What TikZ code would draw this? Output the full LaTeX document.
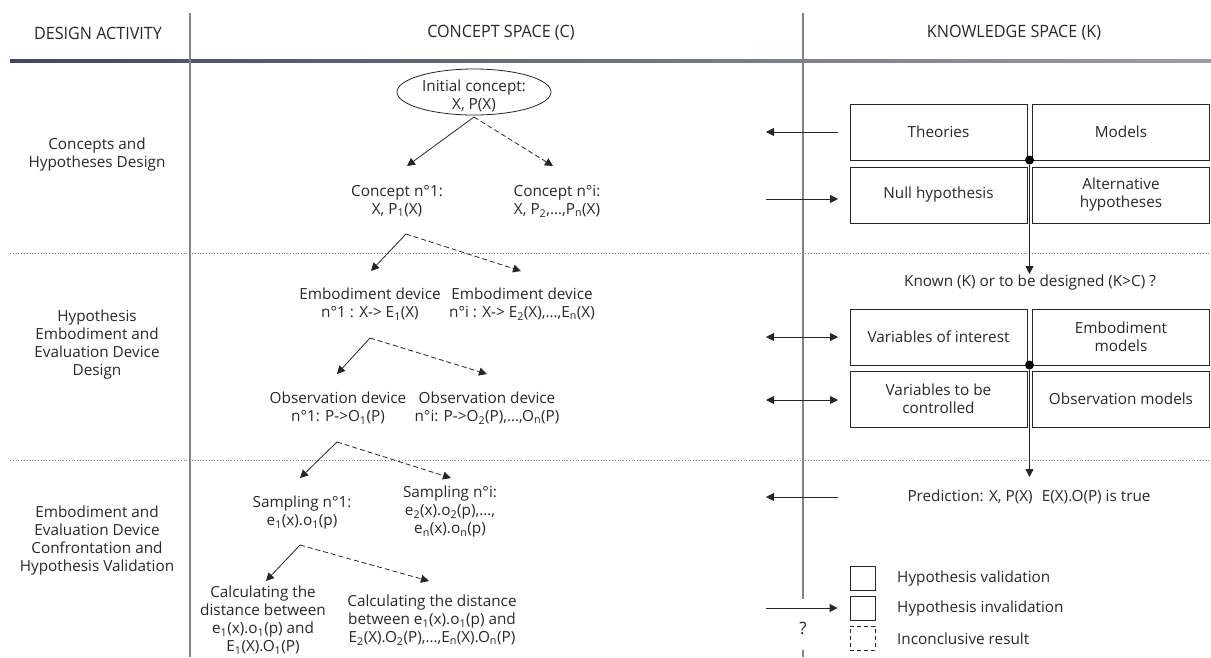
\documentclass[tikz,border=0pt]{standalone}
\usepackage{fontspec}
\setmainfont{Open Sans}
\usetikzlibrary{arrows.meta,shapes.geometric}
\newcommand\lo[1]{\textsubscript{#1}}
\definecolor{txtc}{RGB}{40,40,40}
\definecolor{gridc}{RGB}{130,130,130}
\begin{document}
\begin{tikzpicture}[x=1pt,y=-1pt,
  txt/.style={align=center, text=txtc, font=\fontsize{15.3}{18}\selectfont, inner sep=0pt},
  head/.style={text=txtc, font=\fontsize{17}{18}\selectfont, inner sep=0pt},
  kbox/.style={txt, draw=black!85, line width=0.8pt, minimum width=177pt, minimum height=56pt},
  lbox/.style={draw=black!85, line width=0.8pt, minimum width=25pt, minimum height=24pt, inner sep=0pt},
  arr/.style={-{Triangle[length=8pt,width=8pt]}, line width=0.8pt, black!85},
  darr/.style={{Triangle[length=8pt,width=8pt]}-{Triangle[length=8pt,width=8pt]}, line width=0.8pt, black!85},
  dash arr/.style={arr, dash pattern=on 5pt off 3pt},
  grid/.style={gridc, line width=1.4pt},
  sep/.style={gridc, line width=0.8pt, dotted},
  dot/.style={circle, fill=black, inner sep=0pt, minimum size=9pt}
]
\useasboundingbox[fill=white] (0,0) rectangle (1211,657);

% ---------- grid ----------
\shade[left color={rgb,255:red,65;green,72;blue,95}, right color={rgb,255:red,155;green,158;blue,168}] (10,59.8) rectangle (1211,62);
\draw[grid] (190,13) -- (190,657);
\draw[grid] (803,13) -- (803,599);
\draw[grid] (803,650) -- (803,657);
\draw[sep] (10,253) -- (1211,253);
\draw[sep] (10,460) -- (1211,460);

% ---------- headers ----------
\node[head] (hD) at (98,33) {\scalebox{0.95}[1]{DESIGN ACTIVITY}};
\node[head] (hC) at (501,33) {\scalebox{0.95}[1]{CONCEPT SPACE (C)}};
\node[head] (hK) at (1014,33) {\scalebox{0.95}[1]{KNOWLEDGE SPACE (K)}};

% ---------- design activities ----------
\node[txt] (a1) at (97,155) {Concepts and\\Hypotheses Design};
\node[txt] (a2) at (97,345) {Hypothesis\\Embodiment and\\Evaluation Device\\Design};
\node[txt] (a3) at (97,541) {Embodiment and\\Evaluation Device\\Confrontation and\\Hypothesis Validation};

% ---------- concept space ----------
\node[ellipse, draw=black!85, line width=0.8pt, minimum width=154pt, minimum height=46pt, inner sep=0pt] (init) at (474,92) {};
\node[txt] (initT) at (474,96) {Initial concept:\\X, P(X)};
\node[txt] (c1) at (397,201) {Concept n°1:\\X, P\lo{1}(X)};
\node[txt] (ci) at (557,201) {Concept n°i:\\X, P\lo{2},…,P\lo{n}(X)};
\node[txt] (e1) at (370,304) {Embodiment device\\n°1 : X-> E\lo{1}(X)};
\node[txt] (ei) at (522,304) {Embodiment device\\n°i : X-> E\lo{2}(X),…,E\lo{n}(X)};
\node[txt] (o1) at (338,408) {Observation device\\n°1: P->O\lo{1}(P)};
\node[txt] (oi) at (487,408) {Observation device\\n°i: P->O\lo{2}(P),…,O\lo{n}(P)};
\node[txt] (s1) at (302,513) {Sampling n°1:\\e\lo{1}(x).o\lo{1}(p)};
\node[txt] (si) at (450,512) {Sampling n°i:\\e\lo{2}(x).o\lo{2}(p),…,\\e\lo{n}(x).o\lo{n}(p)};
\node[txt] (d1) at (263,620) {Calculating the\\distance between\\e\lo{1}(x).o\lo{1}(p) and\\E\lo{1}(X).O\lo{1}(P)};
\node[txt] (di) at (432,620) {Calculating the distance\\between e\lo{1}(x).o\lo{1}(p) and\\E\lo{2}(X).O\lo{2}(P),…,E\lo{n}(X).O\lo{n}(P)};

\coordinate (b0) at (474,117);
\coordinate (t1) at (407,166); \coordinate (ti) at (553,166);
\coordinate (b1) at (406,234);
\coordinate (u1) at (371,271); \coordinate (ui) at (521,271);
\coordinate (b2) at (370,338);
\coordinate (v1) at (337,374); \coordinate (vi) at (487,374);
\coordinate (b3) at (337,442);
\coordinate (w1) at (300,478); \coordinate (wi) at (451,478);
\coordinate (b4) at (300,545);
\coordinate (z1) at (266,581); \coordinate (zi) at (429,581);

\draw[arr] (b0) -- (t1);
\draw[dash arr] (b0) -- (ti);
\draw[arr] (b1) -- (u1);
\draw[dash arr] (b1) -- (ui);
\draw[arr] (b2) -- (v1);
\draw[dash arr] (b2) -- (vi);
\draw[arr] (b3) -- (w1);
\draw[dash arr] (b3) -- (wi);
\draw[arr] (b4) -- (z1);
\draw[dash arr] (b4) -- (zi);

% ---------- knowledge space ----------
\node[kbox] (th) at (938.5,132) {Theories};
\node[kbox] (mo) at (1121,132) {Models};
\node[kbox] (nh) at (938.5,195) {Null hypothesis};
\node[kbox] (ah) at (1121,195) {Alternative\\hypotheses};
\node[dot] (dt1) at (1029.5,160) {};
\node[txt] (kn) at (1030,283) {Known (K) or to be designed (K>C) ?};
\draw[arr] (dt1) -- (1029.5,274);

\node[kbox] (vi1) at (938.5,337) {Variables of interest};
\node[kbox] (em) at (1121,337) {Embodiment\\models};
\node[kbox] (vc) at (938.5,399) {Variables to be\\controlled};
\node[kbox] (om) at (1121,399) {Observation models};
\node[dot] (dt2) at (1029.5,365) {};
\node[txt] (pr) at (1029,497) {Prediction: X, P(X)\hspace{0.6em}E(X).O(P) is true};
\draw[arr] (dt2) -- (1029.5,477);

% horizontal arrows
\coordinate (l1) at (766,132); \coordinate (r1) at (838,132);
\coordinate (l2) at (766,199); \coordinate (r2) at (838,199);
\coordinate (l3) at (766,337); \coordinate (r3) at (838,337);
\coordinate (l4) at (766,400); \coordinate (r4) at (838,400);
\coordinate (l5) at (766,497); \coordinate (r5) at (838,497);
\coordinate (l6) at (766,608);
\draw[arr] (r1) -- (l1);
\draw[arr] (l2) -- (r2);
\draw[darr] (l3) -- (r3);
\draw[darr] (l4) -- (r4);
\draw[arr] (r5) -- (l5);

% legend
\node[lbox] (lg1) at (862.5,578) {};
\node[lbox] (lg2) at (862.5,608) {};
\node[lbox, dashed, dash pattern=on 4pt off 3pt] (lg3) at (862.5,638) {};
\node[txt, anchor=west] (lt1) at (897,579) {Hypothesis validation};
\node[txt, anchor=west] (lt2) at (897,609) {Hypothesis invalidation};
\node[txt, anchor=west] (lt3) at (897,639) {Inconclusive result};
\draw[arr] (l6) -- ([xshift=-12pt]lg2.west);
\node[txt, font=\fontsize{17}{18}\selectfont] (q) at (803,628) {?};
\end{tikzpicture}
\end{document}
